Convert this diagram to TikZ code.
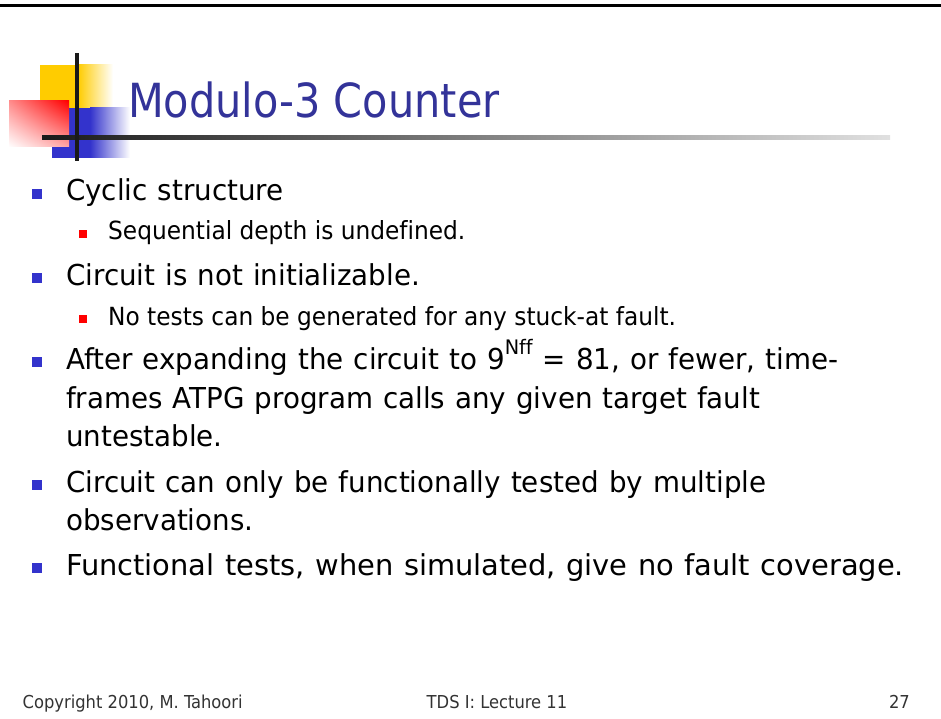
\documentclass[tikz,border=0pt]{standalone}
\usepackage{fontspec}
\setmainfont{DejaVu Sans Condensed}[Ligatures=NoCommon]
\newfontfamily\bodyfont{DejaVu Sans Condensed}[FakeStretch=1.07, WordSpace=1.15, Ligatures=NoCommon]
\newfontfamily\widebodyfont{DejaVu Sans Condensed}[FakeStretch=1.115, WordSpace=1.15, Ligatures=NoCommon]
\newfontfamily\subfont{DejaVu Sans Condensed}[FakeStretch=1.035, Ligatures=NoCommon]
\newfontfamily\headfont{DejaVu Sans Condensed}[FakeStretch=0.98, Ligatures=NoCommon]
\newfontfamily\footfont{DejaVu Sans Condensed}[FakeStretch=1.02, Ligatures=NoCommon]
\usetikzlibrary{shadings}
\definecolor{titleblue}{HTML}{333399}
\definecolor{bulletblue}{HTML}{3333CC}
\definecolor{logoyellow}{HTML}{FFCC00}
\definecolor{logoblue}{HTML}{3333CC}
\definecolor{footgray}{HTML}{333333}
\tikzset{
  main/.style={anchor=base west, inner sep=0pt, font=\bodyfont\fontsize{28.8}{34}\selectfont},
  mainwide/.style={anchor=base west, inner sep=0pt, font=\widebodyfont\fontsize{28.8}{34}\selectfont},
  subtext/.style={anchor=base west, inner sep=0pt, font=\subfont\fontsize{25}{30}\selectfont},
  foot/.style={anchor=base west, inner sep=0pt, text=footgray, font=\footfont\fontsize{17.8}{21}\selectfont},
  mainbullet/.style={fill=bulletblue, draw=none},
  subbullet/.style={fill=red, draw=none},
}
\newcommand{\mainmark}[1]{\fill[mainbullet] (32,#1-12) rectangle (42,#1-2);}
\newcommand{\submark}[1]{\fill[subbullet] (79,#1-10) rectangle (87,#1-2);}
\begin{document}
\begin{tikzpicture}[x=1pt,y=-1pt]
\useasboundingbox (0,0) rectangle (941,719);
\fill[white] (0,0) rectangle (941,719);
% top rule
\fill[black] (0,4) rectangle (941,6.7);

% logo: yellow and blue squares fading to the right
\fill[logoyellow] (40,65) rectangle (78,108);
\shade[left color=logoyellow, right color=white] (78,65) rectangle (113,108);
\fill[logoblue] (52,108) rectangle (90,158);
\shade[left color=logoblue, right color=white] (90,108) rectangle (130,158);
% red square with a diagonal fade
\shade[upper right=red, upper left=red!45!white, lower right=red!35!white, lower left=white]
  (9,101) rectangle (69,147);
% crossing bars
\shade[left color=black!90, right color=black!12] (42,136) rectangle (890,140);
\fill[black!90] (75,53) rectangle (79,161);

% title
\node[anchor=base west, inner sep=0pt, text=titleblue, font=\headfont\fontsize{47}{56}\selectfont]
  (title) at (128,118) {Modulo-3 Counter};

% bullet list
\mainmark{201}
\node[main] (l1) at (66,201) {Cyclic structure};
\submark{240}
\node[subtext] (l2) at (108,240) {Sequential depth is undefined.};
\mainmark{285}
\node[main] (l3) at (66,285) {Circuit is not initializable.};
\submark{325}
\node[subtext] (l4) at (108,325) {No tests can be generated for any stuck-at fault.};
\mainmark{369}
\node[main] (l5) at (66,369) {After expanding the circuit to 9\raisebox{0.52em}{\fontsize{20}{24}\selectfont Nff} = 81, or fewer, time-};
\node[main] (l6) at (66,408) {frames ATPG program calls any given target fault};
\node[main] (l7) at (66,446) {untestable.};
\mainmark{492}
\node[main] (l8) at (66,492) {Circuit can only be functionally tested by multiple};
\node[main] (l9) at (66,530) {observations.};
\mainmark{575}
\node[mainwide] (l10) at (66,575) {Functional tests, when simulated, give no fault coverage.};

% footer
\node[foot] (f1) at (22.5,708) {Copyright 2010, M. Tahoori};
\node[foot] (f2) at (426.5,708) {TDS I: Lecture 11};
\node[foot, anchor=base east] (f3) at (910,708) {27};
\end{tikzpicture}
\end{document}
